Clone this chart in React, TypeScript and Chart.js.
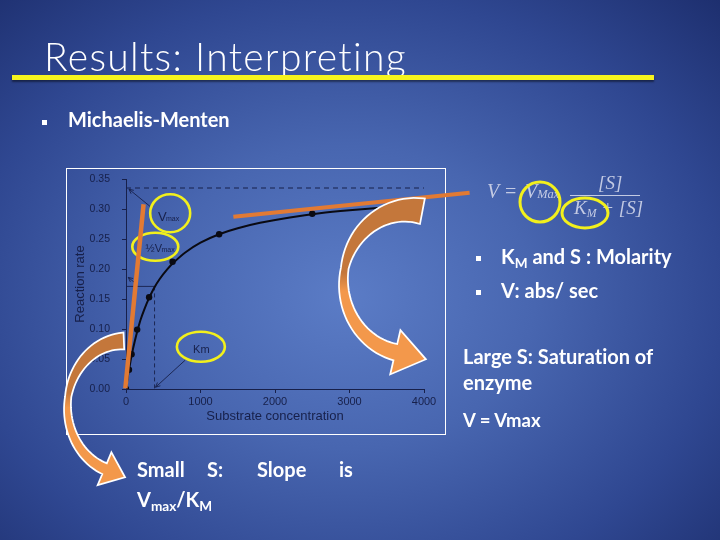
import React, { useEffect, useRef } from "react";
import { Chart, registerables } from "chart.js";
Chart.register(...registerables);

// ---- data ----
const xTickValues = [0, 1000, 2000, 3000, 4000];
const yTickValues = [0, 0.05, 0.1, 0.15, 0.2, 0.25, 0.3, 0.35];
const substrate = [0, 40, 75, 150, 310, 625, 1250, 2500];
const rate = [0, 0.032, 0.058, 0.099, 0.153, 0.212, 0.258, 0.292];
const fitSubstrate = [0, 25, 50, 80, 120, 160, 200, 250, 300, 375, 450, 550, 650, 800, 1000, 1250, 1500, 1800, 2200, 2600, 3000, 3500, 4000];
const fitRate = [0, 0.021, 0.039, 0.059, 0.081, 0.1, 0.117, 0.134, 0.149, 0.168, 0.183, 0.199, 0.212, 0.228, 0.244, 0.258, 0.268, 0.277, 0.286, 0.293, 0.298, 0.303, 0.307];
const vmaxLevel = 0.335;
const halfLevel = 0.171;
const kmValue = 383;
const smallTangentS = [-9, 236];
const smallTangentV = [0.001, 0.308];
const largeTangentS = [1441, 4612];
const largeTangentV = [0.287, 0.327];

const INK = "#17204a";
const ORANGE = "#e27a33";
const YELLOW = "#f2f01c";
const FONT = "Lato, 'Open Sans', sans-serif";

const pts = (xs: number[], ys: number[]) => xs.map((x, i) => ({ x, y: ys[i] }));

function curvedArrow(
  ctx: CanvasRenderingContext2D,
  cx: number, cy: number, rx: number, ry: number,
  th0: number, th1: number,
  w0: number, wm: number, w1: number,
  headLen: number, headHalf: number,
  colTop: string, colBottom: string, splitY: number, topY: number, botY: number
) {
  const n = 48;
  const A: number[][] = [];
  const B: number[][] = [];
  let E = [0, 0], T = [0, 0], N = [0, 0];
  for (let i = 0; i <= n; i++) {
    const t = i / n;
    const th = ((th0 + (th1 - th0) * t) * Math.PI) / 180;
    const px = cx + rx * Math.cos(th);
    const py = cy + ry * Math.sin(th);
    let tx = rx * Math.sin(th);
    let ty = -ry * Math.cos(th);
    const l = Math.hypot(tx, ty);
    tx /= l; ty /= l;
    const nx = -ty, ny = tx;
    const w = t < 0.5 ? w0 + (wm - w0) * (t / 0.5) : wm + (w1 - wm) * ((t - 0.5) / 0.5);
    A.push([px + (nx * w) / 2, py + (ny * w) / 2]);
    B.push([px - (nx * w) / 2, py - (ny * w) / 2]);
    E = [px, py]; T = [tx, ty]; N = [nx, ny];
  }
  ctx.beginPath();
  ctx.moveTo(A[0][0], A[0][1]);
  for (const p of A) ctx.lineTo(p[0], p[1]);
  ctx.lineTo(E[0] + N[0] * headHalf, E[1] + N[1] * headHalf);
  ctx.lineTo(E[0] + T[0] * headLen, E[1] + T[1] * headLen);
  ctx.lineTo(E[0] - N[0] * headHalf, E[1] - N[1] * headHalf);
  for (let i = B.length - 1; i >= 0; i--) ctx.lineTo(B[i][0], B[i][1]);
  ctx.closePath();
  const g = ctx.createLinearGradient(0, topY, 0, botY);
  const s = (splitY - topY) / (botY - topY);
  g.addColorStop(0, colTop);
  g.addColorStop(Math.max(0, s - 0.05), colTop);
  g.addColorStop(Math.min(1, s + 0.05), colBottom);
  g.addColorStop(1, colBottom);
  ctx.lineJoin = "miter";
  ctx.strokeStyle = "#ffffff";
  ctx.lineWidth = 3.5;
  ctx.stroke();
  ctx.fillStyle = g;
  ctx.fill();
}

function thinArrow(ctx: CanvasRenderingContext2D, x0: number, y0: number, x1: number, y1: number) {
  ctx.beginPath();
  ctx.moveTo(x0, y0);
  ctx.lineTo(x1, y1);
  ctx.stroke();
  const a = Math.atan2(y1 - y0, x1 - x0);
  ctx.beginPath();
  ctx.moveTo(x1, y1);
  ctx.lineTo(x1 - 5 * Math.cos(a - 0.45), y1 - 5 * Math.sin(a - 0.45));
  ctx.moveTo(x1, y1);
  ctx.lineTo(x1 - 5 * Math.cos(a + 0.45), y1 - 5 * Math.sin(a + 0.45));
  ctx.stroke();
}

const decor = {
  id: "decor",
  beforeDatasetsDraw(chart: any) {
    const { ctx } = chart;
    const x = chart.scales.x, y = chart.scales.y;
    const X = (v: number) => x.getPixelForValue(v);
    const Y = (v: number) => y.getPixelForValue(v);
    ctx.save();
    ctx.strokeStyle = INK;
    ctx.lineWidth = 0.9;
    thinArrow(ctx, X(326), Y(0.304), X(40), Y(0.333));
    thinArrow(ctx, X(794), Y(0.048), X(397), Y(0.003));
    thinArrow(ctx, X(110), Y(0.178), X(30), Y(0.186));
    ctx.fillStyle = INK;
    ctx.textBaseline = "alphabetic";
    ctx.font = "13px 'Liberation Sans'";
    ctx.fillText("V", X(430), Y(0.28));
    ctx.font = "7px 'Liberation Sans'";
    ctx.fillText("max", X(430) + 8, Y(0.28));
    ctx.font = "11px 'Liberation Sans'";
    ctx.fillText("½V", X(262), Y(0.229));
    ctx.font = "7px 'Liberation Sans'";
    ctx.fillText("max", X(262) + 16, Y(0.229));
    ctx.font = "11px 'Liberation Sans'";
    ctx.fillText("Km", X(900), Y(0.06));
    ctx.strokeStyle = YELLOW;
    ctx.lineWidth = 2.6;
    const ell = (s: number, v: number, rx: number, ry: number) => {
      ctx.beginPath();
      ctx.ellipse(X(s), Y(v), rx, ry, 0, 0, Math.PI * 2);
      ctx.stroke();
    };
    ell(593, 0.293, 20, 19);
    ell(393, 0.237, 23, 14);
    ell(1005, 0.0705, 24, 15);
    ctx.restore();
  },
  afterDraw(chart: any) {
    const { ctx } = chart;
    ctx.save();
    curvedArrow(ctx, 410, 282, 66.5, 72, -80, -258, 24, 6, 15, 29, 21, "#c4773b", "#f3984b", 282, 198, 380);
    curvedArrow(ctx, 125, 407, 57.5, 66, -92, -250, 15, 4.5, 10, 20, 16, "#c4773b", "#f3984b", 400, 333, 485);
    ctx.restore();
  },
};

function ChartCanvas() {
  const ref = useRef<HTMLCanvasElement | null>(null);
  useEffect(() => {
    if (!ref.current) return;
    const chart = new Chart(ref.current, {
      type: "scatter",
      data: {
        datasets: [
          { data: pts(smallTangentS, smallTangentV), showLine: true, borderColor: ORANGE, borderWidth: 4.5, pointRadius: 0, clip: false as any },
          { data: pts(largeTangentS, largeTangentV), showLine: true, borderColor: ORANGE, borderWidth: 4, pointRadius: 0, clip: false as any },
          { data: pts(substrate, rate), showLine: false, pointRadius: 3.2, pointBackgroundColor: "#0a0a12", pointBorderWidth: 0 },
          { data: pts(fitSubstrate, fitRate), showLine: true, borderColor: "#0a0a12", borderWidth: 2, pointRadius: 0, tension: 0.3 },
          { data: [{ x: 0, y: vmaxLevel }, { x: 4000, y: vmaxLevel }], showLine: true, borderColor: INK, borderWidth: 1, borderDash: [5, 4], pointRadius: 0 },
          { data: [{ x: 0, y: halfLevel }, { x: kmValue, y: halfLevel }], showLine: true, borderColor: INK, borderWidth: 0.9, pointRadius: 0 },
          { data: [{ x: kmValue, y: halfLevel }, { x: kmValue, y: 0 }], showLine: true, borderColor: INK, borderWidth: 0.9, borderDash: [4, 3], pointRadius: 0 },
        ],
      },
      options: {
        responsive: false,
        animation: false,
        layout: { padding: { left: 66, top: 179, right: 296, bottom: 106 } },
        plugins: { legend: { display: false }, tooltip: { enabled: false } },
        scales: {
          x: {
            type: "linear", min: 0, max: 4000,
            afterFit: (s: any) => { s.height = 45; },
            afterBuildTicks: (s: any) => { s.ticks = xTickValues.map((v) => ({ value: v })); },
            ticks: { color: INK, font: { family: "'Liberation Sans'", size: 11 }, padding: 2, maxRotation: 0, callback: (v: any) => String(v) },
            grid: { display: true, drawOnChartArea: false, drawTicks: true, tickLength: 4, color: INK },
            border: { display: true, color: INK, width: 1 },
            title: { display: true, text: "Substrate concentration", color: INK, font: { family: "'Liberation Sans'", size: 13 }, padding: { top: 0, bottom: 10 } },
          },
          y: {
            type: "linear", min: 0, max: 0.35,
            afterFit: (s: any) => { s.width = 60; },
            afterBuildTicks: (s: any) => { s.ticks = yTickValues.map((v) => ({ value: v })); },
            ticks: { color: INK, font: { family: "'Liberation Sans'", size: 10.5 }, padding: 12, callback: (v: any) => Number(v).toFixed(2) },
            grid: { display: true, drawOnChartArea: false, drawTicks: true, tickLength: 4, color: INK },
            border: { display: true, color: INK, width: 1 },
            title: { display: true, text: "Reaction rate", color: INK, font: { family: "'Liberation Sans'", size: 13 }, padding: { top: 7, bottom: 0 } },
          },
        },
      } as any,
      plugins: [decor],
    });
    return () => chart.destroy();
  }, []);
  return <canvas ref={ref} width={720} height={540} style={{ position: "absolute", left: 0, top: 0, display: "block" }} />;
}

function T(props: { x: number; baseline: number; size: number; weight?: number; color?: string; family?: string; italic?: boolean; spacing?: number; children: any }) {
  const { x, baseline, size, weight = 700, color = "#ffffff", family = FONT, italic = false, spacing = 0, children } = props;
  return (
    <div
      style={{
        position: "absolute", left: x, top: baseline - 0.887 * size, fontSize: size, lineHeight: 1,
        fontFamily: family, fontWeight: weight, fontStyle: italic ? "italic" : "normal", color, whiteSpace: "nowrap",
        letterSpacing: spacing, fontVariantLigatures: "none",
      }}
    >
      {children}
    </div>
  );
}

const Sub = ({ children }: { children: any }) => (
  <span style={{ fontSize: "0.68em", position: "relative", top: "0.28em" }}>{children}</span>
);

const Bullet = ({ x, y }: { x: number; y: number }) => (
  <div style={{ position: "absolute", left: x, top: y, width: 5, height: 5, background: "#ffffff" }} />
);

export default function App() {
  const EQ = "#c3cae3";
  const SERIF = "'Liberation Serif', 'DejaVu Serif', serif";
  return (
    <div
      style={{
        position: "fixed", left: 0, top: 0, width: 720, height: 540, overflow: "hidden",
        background: "radial-gradient(ellipse 75% 80% at 48% 55%, #5b7cc6 0%, #4866b0 35%, #2f4791 70%, #1c2d6c 100%)",
      }}
    >
      <div style={{ position: "absolute", left: 66, top: 168, width: 378, height: 265, border: "1px solid #ffffff" }} />
      <ChartCanvas />
      <T x={44} baseline={72} size={39} weight={300} spacing={1.3}>Results: Interpreting</T>
      <div style={{ position: "absolute", left: 12, top: 75, width: 642, height: 5, background: "#f6f41e", boxShadow: "0 2px 2px rgba(0,0,0,0.45)" }} />
      <Bullet x={42} y={120} />
      <T x={68} baseline={127} size={20}>Michaelis-Menten</T>

      {/* equation */}
      <T x={487} baseline={199} size={20} weight={400} color={EQ} family={SERIF} italic>V =</T>
      <T x={525} baseline={199} size={20} weight={400} color={EQ} family={SERIF} italic>V<span style={{ fontSize: "0.62em" }}>Max</span></T>
      <T x={598} baseline={190} size={19} weight={400} color={EQ} family={SERIF} italic>[S]</T>
      <div style={{ position: "absolute", left: 570, top: 195, width: 70, height: 1, background: EQ }} />
      <T x={574} baseline={215} size={19} weight={400} color={EQ} family={SERIF} italic>K<span style={{ fontSize: "0.62em", position: "relative", top: "0.25em" }}>M</span> + [S]</T>
      <svg width={720} height={540} style={{ position: "absolute", left: 0, top: 0 }}>
        <ellipse cx={540} cy={202} rx={20} ry={20} fill="none" stroke={YELLOW} strokeWidth={3} />
        <ellipse cx={585} cy={213} rx={23} ry={15} fill="none" stroke={YELLOW} strokeWidth={3} />
      </svg>

      <Bullet x={476} y={256} />
      <T x={501} baseline={264} size={20}>K<Sub>M</Sub> and S : Molarity</T>
      <Bullet x={476} y={290} />
      <T x={501} baseline={298} size={20}>V: abs/ sec</T>
      <T x={463} baseline={364} size={20}>Large S: Saturation of</T>
      <T x={463} baseline={390} size={20}>enzyme</T>
      <T x={463} baseline={427} size={18.5}>V = Vmax</T>

      <T x={137} baseline={477} size={20}>Small</T>
      <T x={207} baseline={477} size={20}>S:</T>
      <T x={257} baseline={477} size={20}>Slope</T>
      <T x={339} baseline={477} size={20}>is</T>
      <T x={137} baseline={507} size={20}>V<Sub>max</Sub>/K<Sub>M</Sub></T>
    </div>
  );
}
